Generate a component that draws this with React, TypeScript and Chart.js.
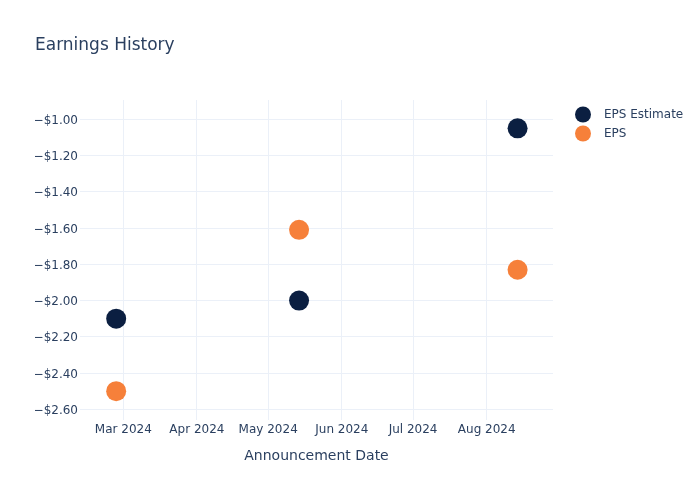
import { useEffect, useRef } from "react";
import { Chart, registerables } from "chart.js";

Chart.register(...registerables);

// ---- data ----
const seriesNames = ["EPS Estimate", "EPS"];
const seriesColors = ["#0b1f41", "#f6803a"];
const announcementDates = ["2024-02-27", "2024-05-14", "2024-08-14"];
const epsEstimate = [-2.1, -2.0, -1.05];
const epsActual = [-2.5, -1.61, -1.83];

const yTickValues = [-2.6, -2.4, -2.2, -2.0, -1.8, -1.6, -1.4, -1.2, -1.0];
const xTickDates = ["2024-03-01", "2024-04-01", "2024-05-01", "2024-06-01", "2024-07-01", "2024-08-01"];
const xTickLabels = ["Mar 2024", "Apr 2024", "May 2024", "Jun 2024", "Jul 2024", "Aug 2024"];

const xRange = ["2024-02-11T18:30:00Z", "2024-08-28T21:50:00Z"];
const yRange = [-2.659, -0.8935];

const titleText = "Earnings History";
const xAxisTitle = "Announcement Date";

const textColor = "#2a3f5f";
const gridColor = "#ebf0f8";
const fontFamily = "'DejaVu Sans', Verdana, sans-serif";

const ts = (d: string) => Date.parse(d.length === 10 ? d + "T00:00:00Z" : d);

const fmtMoney = (v: number) => (v < 0 ? "\u2212" : "") + "$" + Math.abs(v).toFixed(2);

const legendPlugin = {
  id: "customLegend",
  afterDraw(chart: any) {
    const ctx = chart.ctx;
    ctx.save();
    chart.data.datasets.forEach((ds: any, i: number) => {
      const cy = 114.5 + i * 19;
      ctx.beginPath();
      ctx.arc(583, cy, 8, 0, Math.PI * 2);
      ctx.fillStyle = ds.backgroundColor;
      ctx.fill();
      ctx.fillStyle = textColor;
      ctx.font = `12px ${fontFamily}`;
      ctx.textBaseline = "middle";
      ctx.textAlign = "left";
      ctx.fillText(ds.label, 604, cy + 0.5);
    });
    ctx.restore();
  },
};

export default function App() {
  const ref = useRef<HTMLCanvasElement | null>(null);

  useEffect(() => {
    if (!ref.current) return;
    Chart.defaults.font.family = fontFamily;
    const values = [epsEstimate, epsActual];
    const chart = new Chart(ref.current, {
      type: "scatter",
      data: {
        datasets: seriesNames.map((name, s) => ({
          label: name,
          data: announcementDates.map((d, i) => ({ x: ts(d), y: values[s][i] })),
          backgroundColor: seriesColors[s],
          borderColor: seriesColors[s],
          borderWidth: 0,
          pointRadius: 10,
          pointHoverRadius: 10,
          showLine: false,
        })),
      },
      options: {
        animation: false,
        responsive: false,
        events: [],
        layout: { padding: { left: 35, right: 147, top: 0, bottom: 0 } },
        plugins: {
          legend: { display: false },
          tooltip: { enabled: false },
          title: {
            display: true,
            text: titleText,
            align: "start",
            color: textColor,
            font: { size: 17, family: fontFamily, weight: "normal" },
            padding: { top: 35.8, bottom: 43.8 },
          },
        },
        scales: {
          x: {
            type: "linear",
            min: ts(xRange[0]),
            max: ts(xRange[1]),
            afterBuildTicks: (scale: any) => {
              scale.ticks = xTickDates.map((d) => ({ value: ts(d) }));
            },
            afterFit: (scale: any) => {
              scale.height = 80;
            },
            ticks: {
              autoSkip: false,
              maxRotation: 0,
              padding: 3,
              color: textColor,
              font: { size: 12 },
              callback: (_v: any, i: number) => xTickLabels[i],
            },
            grid: { color: gridColor, lineWidth: 1, drawTicks: false },
            border: { display: false },
            title: {
              display: true,
              text: xAxisTitle,
              color: textColor,
              font: { size: 14 },
              padding: { top: 0, bottom: 35 },
            },
          },
          y: {
            type: "linear",
            min: yRange[0],
            max: yRange[1],
            afterBuildTicks: (scale: any) => {
              scale.ticks = yTickValues.map((v) => ({ value: v }));
            },
            afterFit: (scale: any) => {
              scale.width = 45;
            },
            ticks: {
              padding: 2,
              labelOffset: 1.5,
              color: textColor,
              font: { size: 12 },
              callback: (v: any) => fmtMoney(Number(v)),
            },
            grid: { color: gridColor, lineWidth: 1, drawTicks: false },
            border: { display: false },
          },
        },
      },
      plugins: [legendPlugin],
    } as any);
    return () => chart.destroy();
  }, []);

  return (
    <div style={{ position: "fixed", left: 0, top: 0, width: 700, height: 500, background: "#fff" }}>
      <canvas ref={ref} width={700} height={500} style={{ display: "block" }} />
    </div>
  );
}
